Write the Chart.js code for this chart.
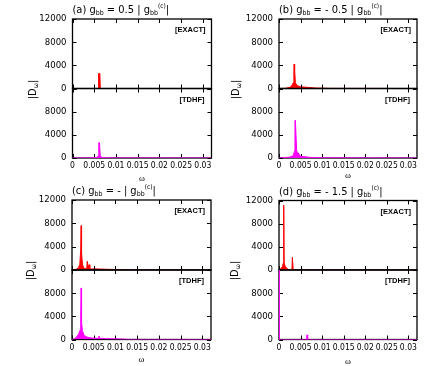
<!DOCTYPE html>
<html>
<head>
<meta charset="utf-8">
<script src="https://cdn.jsdelivr.net/npm/chart.js@4.4.0/dist/chart.umd.min.js"></script>
<style>
  body { margin: 0; background: #fff; }
  #wrap { position: relative; width: 436px; height: 366px; overflow: hidden;
          font-family: 'Liberation Sans Narrow', 'DejaVu Sans Condensed', 'Liberation Sans', sans-serif; }
  canvas { position: absolute; }
  .title { position: absolute; font-size: 11px; white-space: nowrap; line-height: 12px; }
  .title sub { font-size: 7px; vertical-align: baseline; position: relative; top: 2px; }
  .title sup { font-size: 6.5px; vertical-align: baseline; position: relative; top: -5px; }
  .tag { position: absolute; font-size: 7.5px; font-weight: bold; font-family: 'Liberation Sans', sans-serif; line-height: 8px; }
  .ylab { position: absolute; font-size: 11px; line-height: 12px; transform: rotate(-90deg); transform-origin: center; white-space: nowrap; }
  .ylab sub { font-size: 7px; vertical-align: baseline; position: relative; top: 2px; }
  .xlab { position: absolute; font-size: 9px; font-family: 'Liberation Serif', serif; }
</style>
</head>
<body>
<div id="wrap"></div>
<script>
// 座標範圍
const xMax = 0.032;
const yMax = 12000;

// 面板標題 (g_bb 的係數)
const panelLetters = ['a', 'b', 'c', 'd'];
const panelCoef = ['0.5', '- 0.5', '-', '- 1.5'];

// (a) 0.5|g|
const wA_exact = [0, 0.0059, 0.0060, 0.0063, 0.0064, 0.032];
const dA_exact = [0, 0, 2600, 2600, 0, 0];
const wA_tdhf = [0, 0.004, 0.0055, 0.0059, 0.00605, 0.0062, 0.0064, 0.0068, 0.009, 0.032];
const dA_tdhf = [0, 20, 80, 300, 2650, 2650, 300, 80, 20, 0];

// (b) -0.5|g|
const wB_exact = [0, 0.0015, 0.0025, 0.0030, 0.0033, 0.00345, 0.0035, 0.0036, 0.00365, 0.0038, 0.0042, 0.0050, 0.0065, 0.0085, 0.012, 0.032];
const dB_exact = [0, 30, 200, 500, 1000, 3200, 4200, 4200, 3200, 1000, 500, 300, 200, 80, 20, 0];
const wB_tdhf = [0, 0.001, 0.0025, 0.0033, 0.0036, 0.0037, 0.0038, 0.0041, 0.005, 0.007, 0.010, 0.032];
const dB_tdhf = [0, 50, 150, 400, 1200, 6500, 6500, 1200, 300, 120, 30, 0];

// (c) -|g|
const wC_exact = [0, 0.0005, 0.001, 0.0015, 0.0018, 0.002, 0.0021, 0.0022, 0.0024, 0.0027, 0.003, 0.0034, 0.0035, 0.0036, 0.0038, 0.0040, 0.0041, 0.0043, 0.005, 0.007, 0.010, 0.013, 0.032];
const dC_exact = [0, 50, 150, 400, 1000, 3400, 7600, 3000, 1000, 400, 200, 300, 1500, 1500, 500, 900, 400, 150, 200, 150, 80, 20, 0];
const wC_tdhf = [0, 0.0005, 0.001, 0.0015, 0.0019, 0.002, 0.0021, 0.0022, 0.0024, 0.0028, 0.0035, 0.0045, 0.006, 0.0062, 0.0064, 0.0066, 0.008, 0.011, 0.013, 0.032];
const dC_tdhf = [0, 100, 400, 900, 1700, 4000, 8900, 3000, 1500, 700, 400, 250, 200, 600, 200, 200, 150, 100, 20, 0];

// (d) -1.5|g|
const wD_exact = [0, 0.0004, 0.0008, 0.001, 0.0011, 0.0012, 0.0014, 0.0018, 0.0022, 0.0030, 0.0031, 0.0032, 0.0033, 0.004, 0.0065, 0.0067, 0.0069, 0.032];
const dD_exact = [0, 200, 600, 1200, 11200, 1200, 700, 300, 60, 20, 2200, 2200, 20, 10, 20, 120, 20, 0];
const wD_tdhf = [0, 0.0001, 0.0064, 0.0065, 0.0066, 0.0067, 0.032];
const dD_tdhf = [15000, 0, 0, 800, 800, 0, 0];

const series = [
  [wA_exact, dA_exact, wA_tdhf, dA_tdhf],
  [wB_exact, dB_exact, wB_tdhf, dB_tdhf],
  [wC_exact, dC_exact, wC_tdhf, dC_tdhf],
  [wD_exact, dD_exact, wD_tdhf, dD_tdhf],
];

// 各面板的繪圖區位置 (px)
const boxes = [
  { L: 72.5, R: 211.5, T: 19, M: 88.5, B: 158, ylx: 33, xly: 173 },
  { L: 279, R: 417, T: 19, M: 88.5, B: 158, ylx: 236, xly: 170 },
  { L: 72, R: 211, T: 200, M: 270, B: 339.5, ylx: 31, xly: 354 },
  { L: 279, R: 417, T: 200.5, M: 270, B: 339.5, ylx: 235, xly: 356 },
];

const font = "'Liberation Sans Narrow', 'DejaVu Sans Condensed', 'Liberation Sans', sans-serif";
const wrap = document.getElementById('wrap');

// 外框與向內的刻度
const framePlugin = {
  id: 'frame',
  draw(chart) {
    const { ctx, chartArea: a, scales: { x, y } } = chart;
    ctx.save();
    ctx.strokeStyle = '#000';
    ctx.lineWidth = 1.3;
    ctx.strokeRect(a.left, a.top, a.right - a.left, a.bottom - a.top);
    ctx.lineWidth = 1;
    ctx.beginPath();
    x.ticks.forEach(t => {
      const px = Math.round(x.getPixelForValue(t.value)) + 0.5;
      ctx.moveTo(px, a.bottom); ctx.lineTo(px, a.bottom - 4);
      ctx.moveTo(px, a.top); ctx.lineTo(px, a.top + 4);
    });
    y.ticks.forEach(t => {
      const py = Math.round(y.getPixelForValue(t.value)) + 0.5;
      ctx.moveTo(a.left, py); ctx.lineTo(a.left + 4, py);
      ctx.moveTo(a.right, py); ctx.lineTo(a.right - 4, py);
    });
    ctx.stroke();
    ctx.restore();
  },
  beforeDatasetsDraw(chart, args, opts) { if (opts.under) this.draw(chart); },
  afterDatasetsDraw(chart, args, opts) { if (!opts.under) this.draw(chart); }
};

function addText(cls, html, style) {
  const d = document.createElement('div');
  d.className = cls;
  d.innerHTML = html;
  Object.assign(d.style, style);
  wrap.appendChild(d);
  return d;
}

function makeChart(box, top, bottom, w, d, color, isLower) {
  const padL = 45, padR = 10, padT = 12;
  const padB = isLower ? 30 : 12;
  const cl = Math.floor(box.L) - padL;
  const ct = Math.floor(top) - padT;
  const cw = Math.ceil(box.R) + padR - cl;
  const ch = Math.ceil(bottom) + padB - ct;
  const cv = document.createElement('canvas');
  cv.width = cw; cv.height = ch;
  cv.style.left = cl + 'px'; cv.style.top = ct + 'px';
  cv.style.width = cw + 'px'; cv.style.height = ch + 'px';
  wrap.appendChild(cv);

  // 目標繪圖區 (canvas 座標)
  const want = { left: box.L - cl, right: box.R - cl, top: top - ct, bottom: bottom - ct };

  const pts = w.map((v, i) => ({ x: v, y: d[i] }));
  const chart = new Chart(cv.getContext('2d'), {
    type: 'line',
    data: { datasets: [{
      data: pts, borderColor: color, backgroundColor: color,
      borderWidth: 1, pointRadius: 0, tension: 0, fill: 'origin'
    }] },
    options: {
      responsive: false, animation: false, devicePixelRatio: 1,
      layout: { padding: { left: 0, right: cw - want.right, top: want.top, bottom: isLower ? 0 : ch - want.bottom } },
      plugins: { legend: { display: false }, tooltip: { enabled: false }, frame: { under: isLower } },
      scales: {
        x: {
          type: 'linear', min: 0, max: xMax,
          grid: { display: false, drawTicks: false }, border: { display: false },
          ticks: {
            display: isLower, stepSize: 0.005, includeBounds: false, padding: 3,
            color: '#000', font: { family: font, size: 8.5 },
            maxRotation: 0, autoSkip: false,
            callback: v => parseFloat(v.toFixed(4)).toString()
          },
          afterFit: s => { s.height = isLower ? ch - want.bottom : 0; }
        },
        y: {
          min: 0, max: yMax,
          grid: { display: false, drawTicks: false }, border: { display: false },
          ticks: {
            stepSize: 2000, padding: 6, color: '#000', font: { family: font, size: 9.5 },
            callback: v => (v % 4000 === 0 && !(isLower && v === yMax)) ? String(v) : ''
          },
          afterFit: s => { s.width = want.left; }
        }
      }
    },
    plugins: [framePlugin]
  });

  // 修正 Chart.js 自動加的邊距，讓繪圖區落在目標位置
  const a = chart.chartArea;
  const p = chart.options.layout.padding;
  p.top += want.top - a.top;
  p.bottom += a.bottom - want.bottom;
  p.right += a.right - want.right;
  p.left += want.left - a.left;
  chart.update();
}

boxes.forEach((b, i) => {
  const [we, de, wt, dt] = series[i];
  makeChart(b, b.T, b.M, we, de, '#ff0000', false);
  makeChart(b, b.M, b.B, wt, dt, '#ff00ff', true);

  addText('title', '(' + panelLetters[i] + ') g<sub>bb</sub> = ' + panelCoef[i] + ' | g<sub>bb</sub><sup>(c)</sup>|',
    { left: b.L + 'px', top: (b.T - 15) + 'px' });
  addText('tag', '[EXACT]', { right: (436 - b.R + 6) + 'px', top: (b.T + 7) + 'px' });
  addText('tag', '[TDHF]', { right: (436 - b.R + 7) + 'px', top: (b.M + 7) + 'px' });
  addText('ylab', '|D<sub>ω</sub>|', { left: (b.ylx - 10) + 'px', top: (b.M - 6) + 'px', width: '20px', textAlign: 'center' });
  addText('xlab', 'ω', { left: ((b.L + b.R) / 2 - 3) + 'px', top: (b.xly) + 'px' });
});
</script>
</body>
</html>
